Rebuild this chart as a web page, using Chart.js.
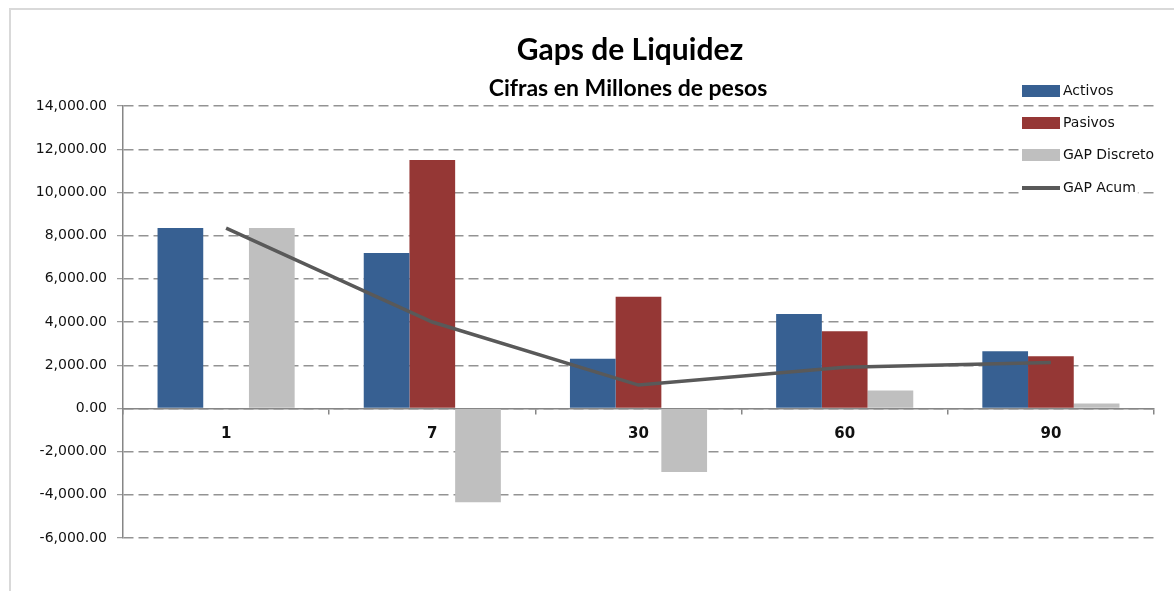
<!DOCTYPE html>
<html>
<head>
<meta charset="utf-8">
<title>Gaps de Liquidez</title>
<script src="https://cdn.jsdelivr.net/npm/chart.js@4.4.0/dist/chart.umd.min.js"></script>
<style>
  html, body { margin: 0; padding: 0; background: #fff; }
  #wrap { position: relative; width: 1174px; height: 591px; }
</style>
</head>
<body>
<div id="wrap"><canvas id="gapChart" width="1174" height="591"></canvas></div>
<script>
// plazos (dias)
const categories = ['1', '7', '30', '60', '90'];

// cifras en millones de pesos
const activos = [8350, 7200, 2300, 4370, 2650];
const pasivos = [0, 11500, 5170, 3570, 2420];
const gapDiscreto = [8350, -4350, -2950, 830, 230];
const gapAcum = [8350, 4000, 1080, 1900, 2130];

// eje y
const yMin = -6000;
const yMax = 14000;
const yStep = 2000;

const titleText = 'Gaps de Liquidez';
const subtitleText = 'Cifras en Millones de pesos';

const fmt = v => Number(v).toLocaleString('en-US', { minimumFractionDigits: 2, maximumFractionDigits: 2 });

// marco gris del grafico
const framePlugin = {
    id: 'frame',
    beforeDraw(chart) {
        const ctx = chart.ctx;
        ctx.save();
        ctx.strokeStyle = '#d9d9d9';
        ctx.lineWidth = 2;
        ctx.strokeRect(10, 9, 1200, 620);
        ctx.restore();
    }
};

// titulo y subtitulo
const titlePlugin = {
    id: 'titles',
    afterDraw(chart) {
        const ctx = chart.ctx;
        ctx.save();
        ctx.fillStyle = '#000';
        ctx.textAlign = 'center';
        ctx.textBaseline = 'alphabetic';
        ctx.font = 'bold 30px Lato';
        ctx.fillText(titleText, 630, 60);
        ctx.font = 'bold 23px Lato';
        ctx.fillText(subtitleText, 628, 96);
        ctx.restore();
    }
};

// leyenda a la derecha, encima del area de trazado (como en Excel)
const legendPlugin = {
    id: 'sideLegend',
    afterDraw(chart) {
        const ctx = chart.ctx;
        const x0 = 1022;
        const rows = [91, 123, 155, 188];
        ctx.save();
        ctx.font = '14px "DejaVu Sans"';
        ctx.textBaseline = 'middle';
        ctx.textAlign = 'left';
        chart.data.datasets
            .slice()
            .sort((a, b) => a.legendIndex - b.legendIndex)
            .forEach((ds, i) => {
                const y = rows[i];
                const w = ctx.measureText(ds.label).width;
                ctx.fillStyle = '#fff';
                ctx.fillRect(x0 - 2, y - 8, 41 + w + 4, 16);
                if (ds.type === 'line') {
                    ctx.strokeStyle = ds.borderColor;
                    ctx.lineWidth = 4;
                    ctx.beginPath();
                    ctx.moveTo(x0, y);
                    ctx.lineTo(x0 + 38, y);
                    ctx.stroke();
                } else {
                    ctx.fillStyle = ds.backgroundColor;
                    ctx.fillRect(x0, y - 6, 38, 12);
                }
                ctx.fillStyle = '#111';
                ctx.fillText(ds.label, x0 + 41, y);
            });
        ctx.restore();
    }
};

const barOpts = { categoryPercentage: 0.665, barPercentage: 1.0, borderWidth: 0, order: 1 };

new Chart(document.getElementById('gapChart'), {
    type: 'bar',
    data: {
        labels: categories,
        datasets: [
            { type: 'line', label: 'GAP Acum', data: gapAcum, borderColor: '#595959', backgroundColor: '#595959',
              borderWidth: 3.5, pointRadius: 0, tension: 0, fill: false, order: 0, legendIndex: 3 },
            { label: 'Activos', data: activos, backgroundColor: '#376092', legendIndex: 0, ...barOpts },
            { label: 'Pasivos', data: pasivos, backgroundColor: '#953735', legendIndex: 1, ...barOpts },
            { label: 'GAP Discreto', data: gapDiscreto, backgroundColor: '#bfbfbf', legendIndex: 2, ...barOpts }
        ]
    },
    options: {
        responsive: false,
        animation: false,
        layout: { padding: { top: 106, left: 0, right: 20, bottom: 53 } },
        plugins: {
            legend: { display: false },
            title: { display: false },
            tooltip: { enabled: false }
        },
        scales: {
            x: {
                position: { y: 0 },
                grid: { display: true, drawOnChartArea: false, drawTicks: true, tickLength: 5,
                        offset: true, color: '#868686', tickColor: '#868686', lineWidth: 1.5 },
                border: { display: true, color: '#868686', width: 1.5 },
                ticks: { font: { family: 'DejaVu Sans', size: 15, weight: 'bold' }, color: '#111',
                         padding: 12, maxRotation: 0 },
                afterFit: s => { s.height = 0; }
            },
            y: {
                min: yMin,
                max: yMax,
                ticks: { stepSize: yStep, callback: v => fmt(v), font: { family: 'DejaVu Sans', size: 14 },
                         color: '#111', padding: 10 },
                grid: { color: '#939393', lineWidth: 1.4, tickLength: 6, tickColor: '#868686',
                        tickWidth: 1, tickBorderDash: [] },
                border: { display: true, color: '#868686', width: 1.5, dash: [10, 5] },
                afterFit: s => { s.width = 123; }
            }
        }
    },
    plugins: [framePlugin, titlePlugin, legendPlugin]
});
</script>
</body>
</html>
